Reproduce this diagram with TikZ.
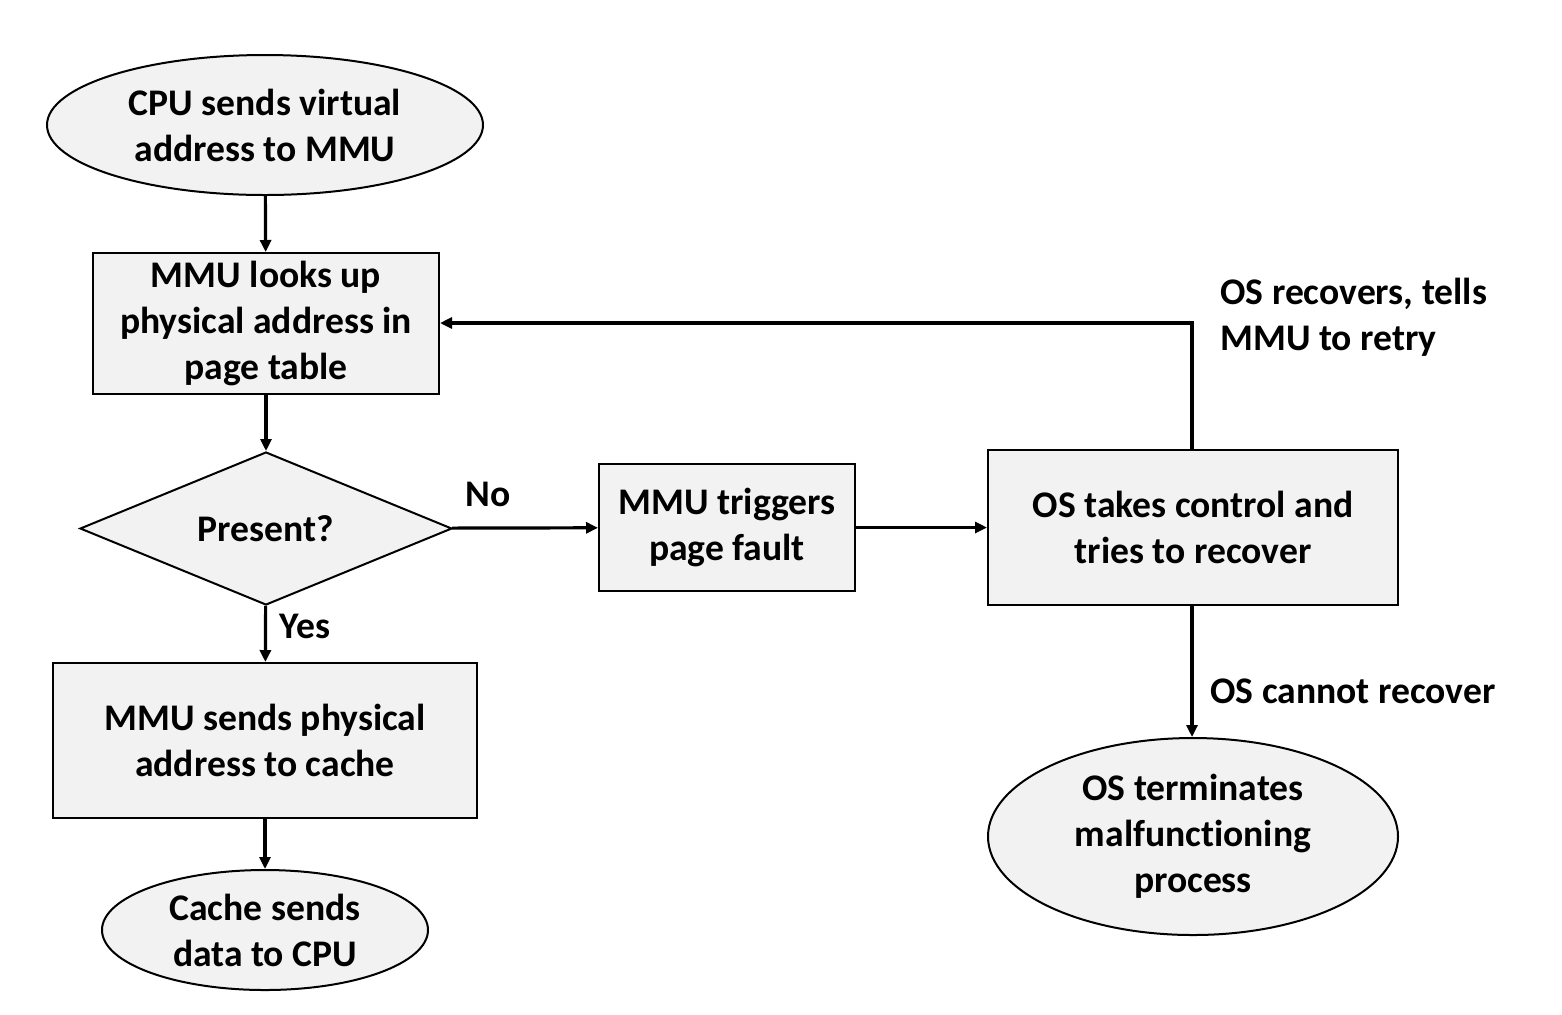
\documentclass[tikz,border=0pt]{standalone}
\usepackage{fontspec}
\setmainfont[Ligatures={NoCommon}]{Carlito}
\usetikzlibrary{shapes.geometric,arrows.meta}
\begin{document}
\begin{tikzpicture}[x=0.5pt,y=-0.5pt,
  base/.style={draw=black,line width=1pt,fill=gray!10,align=center,inner sep=0pt,
    font=\fontsize{18.8}{23}\selectfont\bfseries},
  procbox/.style={base,rectangle},
  termel/.style={base,ellipse},
  decide/.style={base,diamond,aspect=2.43},
  conn/.style={line width=1.6pt,-{Triangle[length=6pt,width=5.5pt]}},
  lbl/.style={font=\fontsize{18.8}{23}\selectfont\bfseries,inner sep=0pt}]
\useasboundingbox (0,0) rectangle (1562,1014);
\node[termel,minimum width=218pt,minimum height=70pt] (cpu) at (265,125) {CPU sends virtual\\address to MMU};
\node[procbox,minimum width=173pt,minimum height=70.5pt] (lookup) at (266,323.5) {MMU looks up\\physical address in\\page table};
\node[decide,minimum width=186pt,minimum height=76.5pt] (present) at (266,528.5) {Present?};
\node[procbox,minimum width=212pt,minimum height=77.5pt] (send) at (265,740.5) {MMU sends physical\\address to cache};
\node[termel,minimum width=163pt,minimum height=60pt] (cache) at (265,930) {Cache sends\\data to CPU};
\node[procbox,minimum width=128pt,minimum height=63.5pt] (fault) at (727,527.5) {MMU triggers\\page fault};
\node[procbox,minimum width=205pt,minimum height=77.5pt] (os) at (1193,527.5) {OS takes control and\\tries to recover};
\node[termel,minimum width=205pt,minimum height=98.5pt] (term) at (1193,836.5) {OS terminates\\malfunctioning\\process};
\coordinate (corner) at (1192,323);
\draw[conn] (cpu) -- (lookup);
\draw[conn] (lookup) -- (present);
\draw[conn] (present) -- (send);
\draw[conn] (send) -- (cache);
\draw[conn] (present) -- (fault);
\draw[conn] (fault) -- (os);
\draw[conn] (os.north -| corner) -- (corner) -- (lookup.east |- corner);
\draw[conn] (os.south -| corner) -- (term.north -| corner);
\node[lbl] (no) at (488,494) {No};
\node[lbl] (yes) at (305,626) {Yes};
\node[lbl,anchor=west,align=left] (rec) at (1220,317) {OS recovers, tells\\MMU to retry};
\node[lbl,anchor=west] (cant) at (1210,691) {OS cannot recover};
\end{tikzpicture}
\end{document}
